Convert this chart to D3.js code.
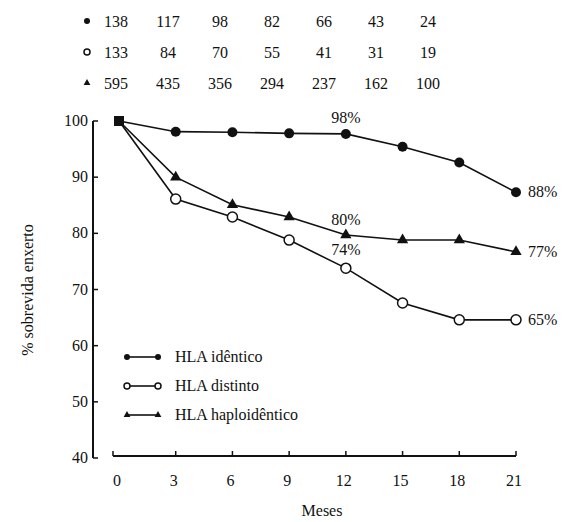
<!DOCTYPE html>
<html>
<head>
<meta charset="utf-8">
<script src="https://cdn.jsdelivr.net/npm/d3@7"></script>
<style>
  body { margin: 0; background: #fff; }
  text { font-family: "Liberation Serif", "DejaVu Serif", serif; fill: #111; }
</style>
</head>
<body>
<div id="chart"></div>
<script>
// data
const months = [0, 3, 6, 9, 12, 15, 18, 21];
const identico = [100, 98.1, 98, 97.8, 97.7, 95.4, 92.6, 87.3];
const distinto = [100, 86.1, 82.9, 78.8, 73.8, 67.6, 64.6, 64.6];
const haplo = [100, 90.0, 85.1, 82.9, 79.7, 78.8, 78.8, 76.7];
const yTicks = [40, 50, 60, 70, 80, 90, 100];
const atRisk = [
  [138, 117, 98, 82, 66, 43, 24],
  [133, 84, 70, 55, 41, 31, 19],
  [595, 435, 356, 294, 237, 162, 100]
];
const seriesNames = ['HLA idêntico', 'HLA distinto', 'HLA haploidêntico'];
const endLabels = ['88%', '65%', '77%'];

const width = 566, height = 522;
const svg = d3.select('#chart').append('svg')
  .attr('width', width).attr('height', height);

const x = d3.scaleLinear().domain([0, 21]).range([119, 516]);
const y = d3.scaleLinear().domain([40, 100]).range([458, 121]);
const fs = '16px';

// y axis
svg.append('line').attr('x1', 93).attr('x2', 93)
  .attr('y1', y(100)).attr('y2', y(40))
  .attr('stroke', '#111').attr('stroke-width', 2);
yTicks.forEach(t => {
  svg.append('line').attr('x1', 93).attr('x2', 98)
    .attr('y1', y(t)).attr('y2', y(t)).attr('stroke', '#111').attr('stroke-width', 1.5);
  svg.append('text').attr('x', 88).attr('y', y(t) + 5)
    .attr('text-anchor', 'end').style('font-size', fs).text(t);
});

// x axis
svg.append('line').attr('x1', 113).attr('x2', x(21))
  .attr('y1', 456).attr('y2', 456)
  .attr('stroke', '#111').attr('stroke-width', 2);
months.forEach(m => {
  const xx = m === 0 ? 113 : x(m);
  svg.append('line').attr('x1', xx).attr('x2', xx)
    .attr('y1', 456).attr('y2', 451).attr('stroke', '#111').attr('stroke-width', 1.5);
  svg.append('text').attr('x', x(m) - 2).attr('y', 486)
    .attr('text-anchor', 'middle').style('font-size', fs).text(m);
});
svg.append('text').attr('x', 322).attr('y', 516)
  .attr('text-anchor', 'middle').style('font-size', fs).text('Meses');
svg.append('text')
  .attr('transform', 'translate(33,290) rotate(-90)')
  .attr('text-anchor', 'middle').style('font-size', fs).text('% sobrevida enxerto');

// lines
const line = d3.line().x((d, i) => x(months[i])).y(d => y(d));
const allSeries = [identico, distinto, haplo];
allSeries.forEach(s => {
  svg.append('path').datum(s).attr('d', line)
    .attr('fill', 'none').attr('stroke', '#111').attr('stroke-width', 1.6);
});

function marker(g, type, cx, cy, r) {
  if (type === 0) {
    g.append('circle').attr('cx', cx).attr('cy', cy).attr('r', r).attr('fill', '#111');
  } else if (type === 1) {
    g.append('circle').attr('cx', cx).attr('cy', cy).attr('r', r)
      .attr('fill', '#fff').attr('stroke', '#111').attr('stroke-width', 1.5);
  } else {
    g.append('path').attr('transform', `translate(${cx},${cy})`)
      .attr('d', d3.symbol(d3.symbolTriangle, r * r * 2.2)).attr('fill', '#111');
  }
}

allSeries.forEach((s, k) => {
  s.forEach((v, i) => {
    if (i === 0) return;
    marker(svg, k, x(months[i]), y(v), 5);
  });
});
// start point square
svg.append('rect').attr('x', x(0) - 5).attr('y', y(100) - 5)
  .attr('width', 10).attr('height', 10).attr('fill', '#111');

// point labels
svg.append('text').attr('x', x(12)).attr('y', y(identico[4]) - 11)
  .attr('text-anchor', 'middle').style('font-size', fs).text('98%');
svg.append('text').attr('x', x(12)).attr('y', y(haplo[4]) - 10)
  .attr('text-anchor', 'middle').style('font-size', fs).text('80%');
svg.append('text').attr('x', x(12)).attr('y', y(distinto[4]) - 13)
  .attr('text-anchor', 'middle').style('font-size', fs).text('74%');
[identico, distinto, haplo].forEach((s, k) => {
  svg.append('text').attr('x', x(21) + 12).attr('y', y(s[7]) + 5)
    .style('font-size', fs).text(endLabels[k]);
});

// legend
seriesNames.forEach((name, k) => {
  const ly = 357 + k * 29;
  svg.append('line').attr('x1', 127).attr('x2', 158).attr('y1', ly).attr('y2', ly)
    .attr('stroke', '#111').attr('stroke-width', 1.6);
  marker(svg, k, 127, ly, 3);
  marker(svg, k, 158, ly, 3);
  svg.append('text').attr('x', 175).attr('y', ly + 5)
    .style('font-size', fs).text(name);
});

// numbers at risk table
const col = d3.scaleLinear().domain([0, 6]).range([116, 428]);
atRisk.forEach((row, k) => {
  const ry = 22 + k * 31;
  marker(svg, k, 87, ry - 1, 3);
  row.forEach((v, i) => {
    svg.append('text').attr('x', col(i)).attr('y', ry + 5)
      .attr('text-anchor', 'middle').style('font-size', fs).text(v);
  });
});
</script>
</body>
</html>
